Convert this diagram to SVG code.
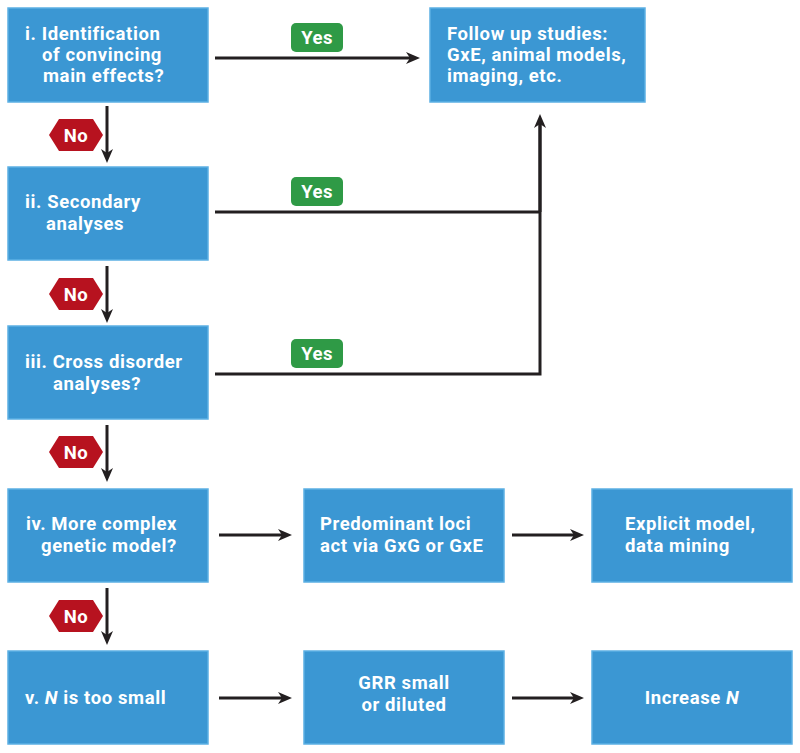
<svg xmlns="http://www.w3.org/2000/svg" width="800" height="753" viewBox="0 0 800 753">
<defs>
<style>
.box{fill:#3b97d3;stroke:#5cb0e4;stroke-width:1.5}
.t{font-family:Roboto,"Liberation Sans",Arial,sans-serif;font-weight:bold;font-size:18.5px;letter-spacing:0.6px;fill:#fff}
.c{text-anchor:middle}
.conn{stroke:#231f20;stroke-width:3;fill:none}
.arr{marker-end:url(#ah)}
.yes{fill:#2f9a46}
.no{fill:#b7121f}
.lbl{font-family:Roboto,"Liberation Sans",Arial,sans-serif;font-weight:bold;font-size:18.5px;letter-spacing:0.4px;fill:#fff;text-anchor:middle}
</style>
<marker id="ah" markerUnits="userSpaceOnUse" markerWidth="16" markerHeight="14" refX="4" refY="6" orient="auto">
<path d="M0,0 L14,6 L0,12 L4,6 z" fill="#231f20"/>
</marker>
</defs>
<rect width="800" height="753" fill="#fff"/>

<g id="connectors">
<line class="conn arr" x1="215" y1="58" x2="410" y2="58"/>
<polyline class="conn" points="215,212 540,212"/>
<polyline class="conn" points="215,374 540,374 540,122"/>
<line class="conn arr" x1="540" y1="212" x2="540" y2="124"/>
<line class="conn arr" x1="107" y1="106" x2="107" y2="153"/>
<line class="conn arr" x1="107" y1="266" x2="107" y2="313"/>
<line class="conn arr" x1="107" y1="425" x2="107" y2="472"/>
<line class="conn arr" x1="107" y1="588" x2="107" y2="635"/>
<line class="conn arr" x1="219" y1="535" x2="282" y2="535"/>
<line class="conn arr" x1="512" y1="535" x2="574" y2="535"/>
<line class="conn arr" x1="219" y1="698" x2="282" y2="698"/>
<line class="conn arr" x1="512" y1="698" x2="574" y2="698"/>
<g id="yes1"><rect class="yes" x="291" y="23" width="52" height="29" rx="5"/><text class="lbl" x="317" y="44">Yes</text></g>
<g id="yes2"><rect class="yes" x="291" y="177" width="52" height="29" rx="5"/><text class="lbl" x="317" y="198">Yes</text></g>
<g id="yes3"><rect class="yes" x="291" y="339" width="52" height="29" rx="5"/><text class="lbl" x="317" y="360">Yes</text></g>
<g id="no1"><polygon class="no" points="49,135 59,119 93,119 103,135 93,151 59,151"/><text class="lbl" x="76" y="142">No</text></g>
<g id="no2"><polygon class="no" points="49,294 59,278 93,278 103,294 93,310 59,310"/><text class="lbl" x="76" y="301">No</text></g>
<g id="no3"><polygon class="no" points="49,452 59,436 93,436 103,452 93,468 59,468"/><text class="lbl" x="76" y="459">No</text></g>
<g id="no4"><polygon class="no" points="49,616 59,600 93,600 103,616 93,632 59,632"/><text class="lbl" x="76" y="623">No</text></g>
</g>

<g id="node-i"><rect class="box" x="8" y="8" width="200" height="94"/>
<text class="t" x="25" y="40">i. Identification</text>
<text class="t" x="42" y="61">of convincing</text>
<text class="t" x="43" y="82">main effects?</text></g>

<g id="node-follow"><rect class="box" x="430" y="8" width="215" height="94"/>
<text class="t" x="447" y="40">Follow up studies:</text>
<text class="t" x="447" y="61">GxE, animal models,</text>
<text class="t" x="447" y="82">imaging, etc.</text></g>

<g id="node-ii"><rect class="box" x="8" y="167" width="200" height="93"/>
<text class="t" x="25" y="208">ii. Secondary</text>
<text class="t" x="46" y="230">analyses</text></g>

<g id="node-iii"><rect class="box" x="8" y="326" width="200" height="93"/>
<text class="t" x="25" y="368">iii. Cross disorder</text>
<text class="t" x="53" y="390">analyses?</text></g>

<g id="node-iv"><rect class="box" x="8" y="489" width="200" height="93"/>
<text class="t" x="26" y="530">iv. More complex</text>
<text class="t" x="41" y="552">genetic model?</text></g>

<g id="node-predominant"><rect class="box" x="304" y="489" width="200" height="93"/>
<text class="t" x="320" y="530">Predominant loci</text>
<text class="t" x="320" y="552">act via GxG or GxE</text></g>

<g id="node-explicit"><rect class="box" x="592" y="489" width="200" height="93"/>
<text class="t" x="625" y="530">Explicit model,</text>
<text class="t" x="625" y="552">data mining</text></g>

<g id="node-v"><rect class="box" x="8" y="651" width="200" height="93"/>
<text class="t" x="25" y="704">v. <tspan font-style="italic">N</tspan> is too small</text></g>

<g id="node-grr"><rect class="box" x="304" y="651" width="200" height="93"/>
<text class="t c" x="404" y="689">GRR small</text>
<text class="t c" x="404" y="711">or diluted</text></g>

<g id="node-increase"><rect class="box" x="592" y="651" width="200" height="93"/>
<text class="t c" x="692" y="704">Increase <tspan font-style="italic">N</tspan></text></g>
</svg>
